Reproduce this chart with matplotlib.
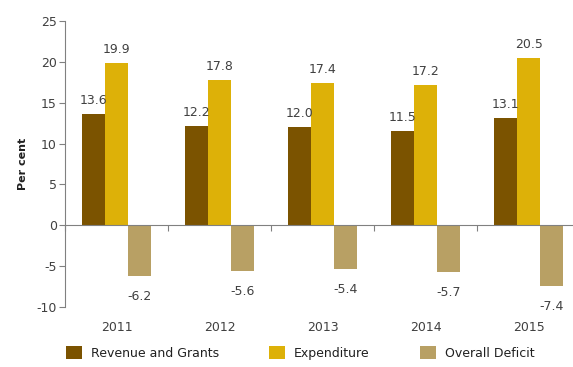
import numpy as np
import matplotlib.pyplot as plt

# Receitas, despesas e défice (% do PIB)
anos = ['2011', '2012', '2013', '2014', '2015']
receita = [13.6, 12.2, 12.0, 11.5, 13.1]
despesa = [19.9, 17.8, 17.4, 17.2, 20.5]
defice = [-6.2, -5.6, -5.4, -5.7, -7.4]

series = ['Revenue and Grants', 'Expenditure', 'Overall Deficit']
cores = ['#7b5300', '#ddb108', '#b8a064']
cinza = '#404040'

plt.rcParams['font.family'] = 'DejaVu Sans'
plt.rcParams['axes.unicode_minus'] = False

fig = plt.figure(figsize=(5.73, 3.67), dpi=100)
ax = fig.add_axes([0.1134, 0.1635, 0.899, 0.779])

x = np.arange(len(anos))
w = 0.223
for i, (vals, nome, cor) in enumerate(zip([receita, despesa, defice], series, cores)):
    barras = ax.bar(x + (i - 1) * w, vals, width=w, color=cor, label=nome)
    for b, v in zip(barras, vals):
        if v >= 0:
            ax.annotate(f'{v:.1f}', (b.get_x() + b.get_width() / 2, v),
                        xytext=(0, 5), textcoords='offset points',
                        ha='center', va='bottom', fontsize=9, color=cinza)
        else:
            ax.annotate(f'{v:.1f}', (b.get_x() + b.get_width() / 2, v),
                        xytext=(0, -10), textcoords='offset points',
                        ha='center', va='top', fontsize=9, color=cinza)

ax.set_ylim(-10, 25)
ax.set_xlim(-0.5, 4.5)
ax.set_yticks(range(-10, 26, 5))
ax.set_ylabel('Per cent', fontsize=8, fontweight='bold', color='#202020', labelpad=6)

# eixo x passa pelo zero, com marcas entre os grupos
ax.spines['bottom'].set_position(('data', 0))
ax.spines['top'].set_visible(False)
ax.spines['right'].set_visible(False)
for s in ['left', 'bottom']:
    ax.spines[s].set_color('#808080')
ax.set_xticks(np.arange(-0.5, 5, 1))
ax.set_xticklabels([])
ax.tick_params(axis='x', length=4, color='#808080')
ax.tick_params(axis='y', length=4, color='#808080', labelsize=9, labelcolor=cinza, pad=2)

for xi, ano in zip(x, anos):
    ax.text(xi, -0.07, ano, transform=ax.get_xaxis_transform(),
            ha='center', va='center', fontsize=9, color=cinza)

fig.legend(loc='center left', bbox_to_anchor=(0.104, 0.038), ncol=3, frameon=False,
           fontsize=9, handlelength=1.3, handleheight=1.2, handletextpad=0.7,
           columnspacing=4.0, borderpad=0, labelcolor='#202020')

fig.savefig('out.png', dpi=100)
